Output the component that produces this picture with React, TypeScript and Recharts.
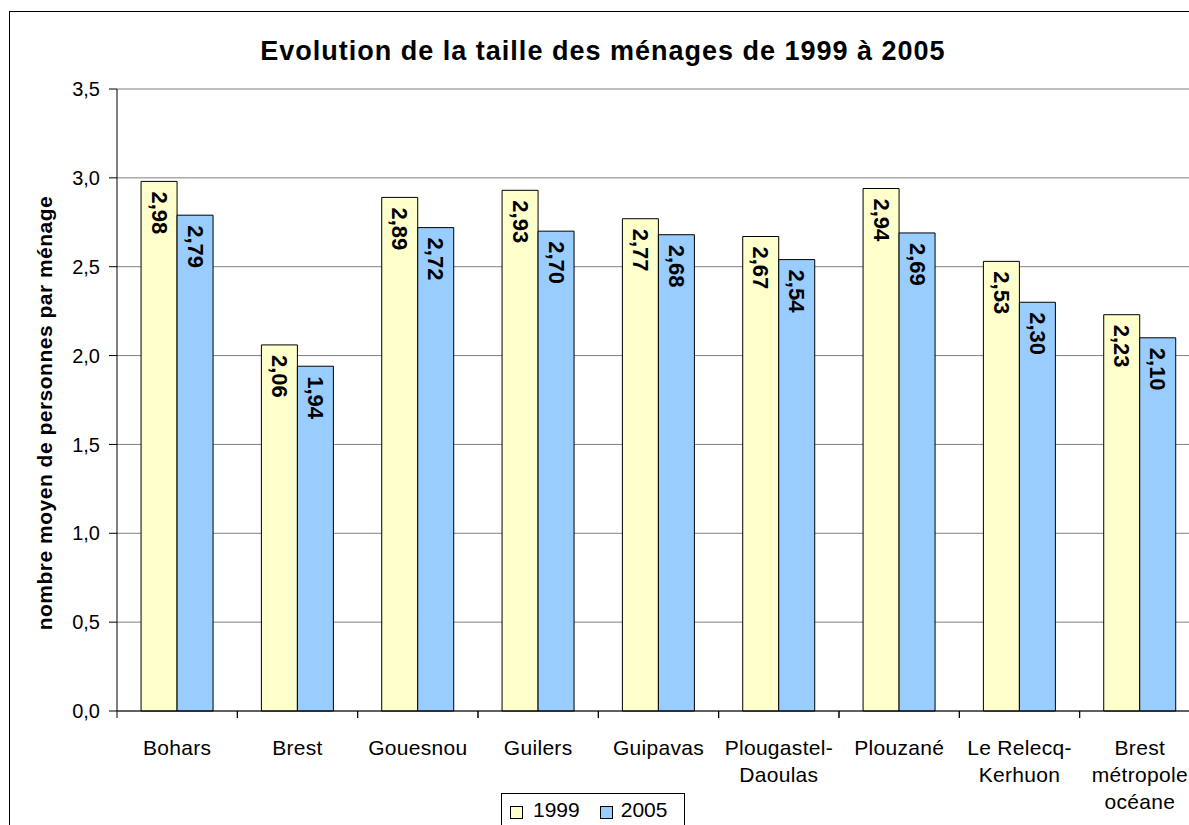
import { BarChart, Bar, XAxis, YAxis, CartesianGrid, LabelList } from 'recharts'

const communes = [
    'Bohars',
    'Brest',
    'Gouesnou',
    'Guilers',
    'Guipavas',
    'Plougastel-\nDaoulas',
    'Plouzané',
    'Le Relecq-\nKerhuon',
    'Brest\nmétropole\nocéane',
]
const taille1999 = [2.98, 2.06, 2.89, 2.93, 2.77, 2.67, 2.94, 2.53, 2.23]
const taille2005 = [2.79, 1.94, 2.72, 2.7, 2.68, 2.54, 2.69, 2.3, 2.1]
const yTicks = [0, 0.5, 1, 1.5, 2, 2.5, 3, 3.5]

const data = communes.map((c, i) => ({ commune: c, y1999: taille1999[i], y2005: taille2005[i] }))

const FONT = 'Arial, "Liberation Sans", sans-serif'
const virgule = (v: number) => v.toFixed(2).replace('.', ',')

function CommuneTick(props: any) {
    const { x, y, payload } = props
    const half = payload.offset ?? 60
    const lines = String(payload.value).split('\n')
    return (
        <g>
            <line x1={x - half} x2={x - half} y1={y} y2={y + 7} stroke="#000" />
            <line x1={x + half} x2={x + half} y1={y} y2={y + 7} stroke="#000" />
            <text x={x} y={y + 44} textAnchor="middle" fontSize={21} letterSpacing={0.3} fontFamily={FONT} fill="#000">
                {lines.map((l, i) => (
                    <tspan key={i} x={x} dy={i === 0 ? 0 : 27}>{l}</tspan>
                ))}
            </text>
        </g>
    )
}

function ValueLabel(props: any) {
    const { x, y, width, value } = props
    const cx = x + width / 2
    const ty = y + 10
    return (
        <text
            x={cx}
            y={ty}
            transform={`rotate(90, ${cx}, ${ty})`}
            textAnchor="start"
            dominantBaseline="central"
            fontSize={22}
            fontWeight="bold"
            fontFamily={FONT}
            fill="#000"
        >
            {virgule(value)}
        </text>
    )
}

function AxisTitle(props: any) {
    const vb = props.viewBox || { x: 0, y: 89, width: 117, height: 622 }
    const lx = vb.x + 52
    const ly = vb.y + vb.height / 2 + 13
    return (
        <text
            x={lx}
            y={ly}
            transform={`rotate(-90, ${lx}, ${ly})`}
            textAnchor="middle"
            fontSize={21}
            letterSpacing={0.5}
            fontWeight="bold"
            fontFamily={FONT}
            fill="#000"
        >
            nombre moyen de personnes par ménage
        </text>
    )
}

export default function App() {
    return (
        <div style={{ position: 'absolute', left: 0, top: 0, width: 1189, height: 825, overflow: 'hidden', background: '#fff' }}>
            <div style={{ position: 'absolute', left: 9, top: 11, width: 1400, height: 1000, border: '1px solid #000' }} />
            <div style={{ position: 'absolute', left: 0, top: 36, width: 1206, textAlign: 'center', fontFamily: FONT, fontWeight: 'bold', fontSize: 27, letterSpacing: 1 }}>
                Evolution de la taille des ménages de 1999 à 2005
            </div>
            <div style={{ position: 'absolute', left: 0, top: 0 }}>
                <BarChart
                    width={1210}
                    height={825}
                    data={data}
                    margin={{ top: 89, right: 10, bottom: 0, left: 0 }}
                    barCategoryGap="20%"
                    barGap={0}
                >
                    <CartesianGrid vertical={false} stroke="#808080" />
                    <XAxis
                        dataKey="commune"
                        interval={0}
                        tickLine={false}
                        tickSize={0}
                        tickMargin={0}
                        height={114}
                        axisLine={{ stroke: '#000' }}
                        tick={<CommuneTick />}
                    />
                    <YAxis
                        width={117}
                        domain={[0, 3.5]}
                        ticks={yTicks}
                        tickSize={8}
                        tickMargin={9}
                        axisLine={{ stroke: '#000' }}
                        tickLine={{ stroke: '#000' }}
                        tick={{ fill: '#000', fontSize: 20, fontFamily: FONT }}
                        tickFormatter={(v: number) => v.toFixed(1).replace('.', ',')}
                        label={<AxisTitle />}
                    />
                    <Bar dataKey="y1999" name="1999" fill="#FFFFCC" stroke="#000" isAnimationActive={false}>
                        <LabelList dataKey="y1999" content={<ValueLabel />} />
                    </Bar>
                    <Bar dataKey="y2005" name="2005" fill="#99CCFF" stroke="#000" isAnimationActive={false}>
                        <LabelList dataKey="y2005" content={<ValueLabel />} />
                    </Bar>
                </BarChart>
            </div>
            <div style={{ position: 'absolute', left: 501, top: 793, width: 184, height: 40, border: '1px solid #000', background: '#fff', fontFamily: FONT, fontSize: 21, display: 'flex', alignItems: 'flex-start', paddingTop: 4, boxSizing: 'border-box' }}>
                <span style={{ display: 'inline-block', width: 11, height: 11, border: '1px solid #000', background: '#FFFFCC', marginLeft: 8, marginTop: 8 }} />
                <span style={{ marginLeft: 10 }}>1999</span>
                <span style={{ display: 'inline-block', width: 11, height: 11, border: '1px solid #000', background: '#99CCFF', marginLeft: 20, marginTop: 8 }} />
                <span style={{ marginLeft: 8 }}>2005</span>
            </div>
        </div>
    )
}
